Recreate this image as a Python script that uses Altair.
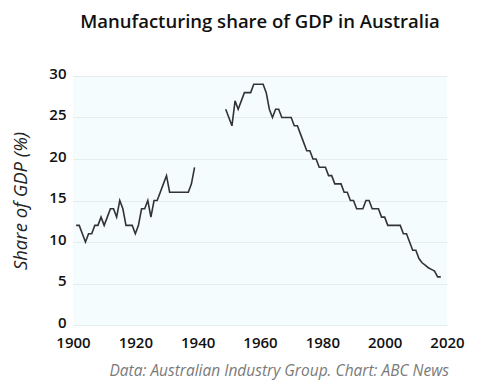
import altair as alt
import pandas as pd

years_a = list(range(1901, 1940))
share_a = [12, 12, 11, 10, 11, 11, 12, 12, 13, 12,
           13, 14, 14, 13, 15, 14, 12, 12, 12, 11,
           12, 14, 14, 15, 13, 15, 15, 16, 17, 18,
           16, 16, 16, 16, 16, 16, 16, 17, 19]

years_b = list(range(1949, 2019))
share_b = [26, 25, 24, 27, 26, 27, 28, 28, 28, 29,
           29, 29, 29, 28, 26, 25, 26, 26, 25, 25,
           25, 25, 24, 24, 23, 22, 21, 21, 20, 20,
           19, 19, 19, 18, 18, 17, 17, 17, 16, 16,
           15, 15, 14, 14, 14, 15, 15, 14, 14, 14,
           13, 13, 12, 12, 12, 12, 12, 11, 11, 10,
           9, 9, 8, 7.5, 7.2, 6.9, 6.7, 6.5, 5.8, 5.8]

df = pd.DataFrame({
    "year": years_a + years_b,
    "share": share_a + share_b,
    "segment": ["a"] * len(years_a) + ["b"] * len(years_b),
})

FONT = "Open Sans"

line = alt.Chart(df).mark_line(color="#333333", strokeWidth=1.6).encode(
    x=alt.X("year:Q", scale=alt.Scale(domain=[1900, 2020], nice=False),
            axis=alt.Axis(values=[1900, 1920, 1940, 1960, 1980, 2000, 2020],
                          format="d", title=None, grid=False, domain=False,
                          ticks=False, labelPadding=10, labelFlush=False,
                          labelOverlap=False)),
    y=alt.Y("share:Q", scale=alt.Scale(domain=[0, 30], nice=False),
            axis=alt.Axis(values=[0, 5, 10, 15, 20, 25, 30], title="Share of GDP (%)",
                          domain=False, ticks=False, labelPadding=7,
                          labelFlush=False, labelOverlap=False, labelOffset=-3,
                          titlePadding=18)),
    detail="segment:N",
)

footer = alt.Chart(pd.DataFrame({"t": ["Data: Australian Industry Group. Chart: ABC News"]})).mark_text(
    align="right", baseline="middle", font=FONT, fontStyle="italic", fontSize=15.5,
    color="#7a7a7a",
).encode(x=alt.value(376), y=alt.value(295), text="t:N")

chart = alt.layer(line, footer).properties(
    width=374, height=249,
    title=alt.TitleParams("Manufacturing share of GDP in Australia", anchor="middle",
                          font=FONT, fontSize=18.5, fontWeight=600, color="#111111",
                          offset=35),
    autosize=alt.AutoSizeParams(type="none"),
    padding={"left": 65, "top": 68, "right": 45, "bottom": 60},
).configure_view(
    fill="#f4fcfd", stroke=None,
).configure_axis(
    labelFont=FONT, labelFontSize=15, labelFontWeight=600, labelColor="#111111",
    titleFont=FONT, titleFontSize=18.5, titleFontWeight="normal", titleColor="#222222",
    gridColor="#e4eeee", gridWidth=1,
).configure_axisY(
    titleFontStyle="italic",
)

chart.save("out.html", embed_options={"renderer": "svg", "actions": False})
